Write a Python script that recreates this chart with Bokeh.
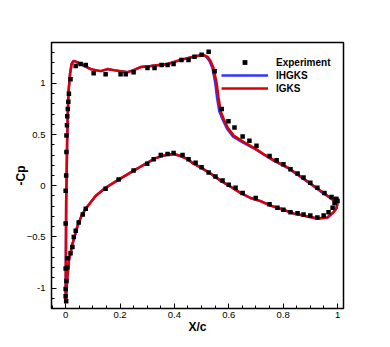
from bokeh.plotting import figure
from bokeh.models import Range1d, Legend, LegendItem, FixedTicker
from bokeh.embed import file_html
from bokeh.resources import INLINE

# Experiment, upper surface
exp_up_x = [0.002, 0.003, 0.003, 0.005, 0.006, 0.008, 0.010, 0.012, 0.018, 0.037, 0.055, 0.074,
            0.103, 0.147, 0.202, 0.221, 0.250, 0.301, 0.327, 0.353, 0.375, 0.397, 0.426, 0.452,
            0.474, 0.500, 0.526, 0.548, 0.574, 0.599, 0.621, 0.651, 0.676, 0.702, 0.750, 0.776,
            0.801, 0.827, 0.853, 0.875, 0.900, 0.926, 0.952, 0.978, 0.993, 1.000]
exp_up_cp = [0.10, 0.33, 0.49, 0.59, 0.68, 0.75, 0.82, 0.90, 1.04, 1.17, 1.19, 1.18,
             1.10, 1.09, 1.09, 1.09, 1.11, 1.15, 1.15, 1.18, 1.18, 1.19, 1.23, 1.23,
             1.26, 1.28, 1.31, 1.12, 0.75, 0.63, 0.57, 0.48, 0.44, 0.39, 0.29, 0.25,
             0.21, 0.16, 0.12, 0.08, 0.03, -0.02, -0.07, -0.11, -0.13, -0.15]

# Experiment, lower surface
exp_lo_x = [0.000, 0.000, 0.000, 0.000, 0.000, 0.002, 0.003, 0.006, 0.007, 0.018, 0.025, 0.030,
            0.037, 0.048, 0.063, 0.074, 0.147, 0.195, 0.250, 0.300, 0.324, 0.350, 0.375, 0.397,
            0.430, 0.452, 0.478, 0.500, 0.526, 0.551, 0.577, 0.600, 0.625, 0.651, 0.699, 0.750,
            0.779, 0.801, 0.827, 0.853, 0.875, 0.900, 0.926, 0.949, 0.967, 0.982, 0.989, 0.996]
exp_lo_cp = [-0.05, -0.37, -0.81, -1.01, -1.08, -1.13, -0.93, -0.80, -0.71, -0.66, -0.60, -0.50,
             -0.44, -0.36, -0.28, -0.225, -0.03, 0.06, 0.15, 0.215, 0.26, 0.30, 0.31, 0.32,
             0.30, 0.26, 0.225, 0.18, 0.13, 0.09, 0.05, 0.01, -0.02, -0.07, -0.12, -0.18,
             -0.215, -0.235, -0.26, -0.27, -0.28, -0.29, -0.31, -0.29, -0.26, -0.215, -0.17, -0.13]

# IGKS (red)
igks_up_x = [0.0, 0.001, 0.002, 0.004, 0.0055, 0.0075, 0.011, 0.0165, 0.022, 0.029, 0.040, 0.055,
             0.092, 0.129, 0.154, 0.176, 0.228, 0.250, 0.276, 0.3125, 0.375, 0.423, 0.470, 0.507,
             0.522, 0.533, 0.544, 0.555, 0.5625, 0.570, 0.581, 0.596, 0.618, 0.654, 0.699, 0.728,
             0.765, 0.816, 0.875, 0.9375, 0.974, 1.0]
igks_up_cp = [-1.14, -0.64, -0.15, 0.15, 0.44, 0.68, 0.93, 1.10, 1.19, 1.22, 1.21, 1.19,
              1.14, 1.12, 1.14, 1.13, 1.11, 1.13, 1.16, 1.17, 1.19, 1.23, 1.26, 1.28,
              1.26, 1.22, 1.15, 1.01, 0.86, 0.73, 0.655, 0.57, 0.49, 0.43, 0.36, 0.31,
              0.25, 0.18, 0.07, -0.05, -0.12, -0.17]
igks_lo_x = [0.0, 0.006, 0.012, 0.025, 0.043, 0.059, 0.074, 0.110, 0.147, 0.195, 0.246, 0.294,
             0.331, 0.368, 0.397, 0.423, 0.449, 0.470, 0.496, 0.533, 0.570, 0.607, 0.643, 0.680,
             0.717, 0.754, 0.790, 0.838, 0.890, 0.926, 0.963, 0.985, 0.996, 1.0]
igks_lo_cp = [-1.14, -0.90, -0.73, -0.57, -0.40, -0.29, -0.225, -0.10, -0.02, 0.06, 0.14, 0.215,
              0.27, 0.30, 0.31, 0.29, 0.26, 0.215, 0.18, 0.12, 0.05, -0.01, -0.07, -0.12,
              -0.15, -0.195, -0.225, -0.27, -0.30, -0.32, -0.31, -0.26, -0.22, -0.17]

# IHGKS (blue), shock slightly upstream
ihgks_up_x = [0.0, 0.001, 0.002, 0.004, 0.0055, 0.0075, 0.011, 0.0165, 0.022, 0.029, 0.040, 0.055,
              0.092, 0.129, 0.154, 0.176, 0.228, 0.250, 0.276, 0.3125, 0.375, 0.423, 0.470, 0.505,
              0.518, 0.529, 0.540, 0.550, 0.557, 0.565, 0.577, 0.593, 0.616, 0.653, 0.699, 0.728,
              0.765, 0.816, 0.875, 0.9375, 0.974, 1.0]
ihgks_up_cp = [-1.14, -0.64, -0.15, 0.15, 0.44, 0.68, 0.93, 1.10, 1.19, 1.22, 1.21, 1.19,
               1.14, 1.12, 1.14, 1.13, 1.11, 1.13, 1.16, 1.17, 1.19, 1.23, 1.26, 1.28,
               1.26, 1.22, 1.15, 1.01, 0.86, 0.73, 0.65, 0.56, 0.48, 0.42, 0.355, 0.305,
               0.245, 0.175, 0.065, -0.055, -0.12, -0.17]
ihgks_lo_x = igks_lo_x
ihgks_lo_cp = igks_lo_cp

x_ticks = [0, 0.2, 0.4, 0.6, 0.8, 1]
y_ticks = [-1, -0.5, 0, 0.5, 1]

p = figure(width=390, height=347, output_backend="svg", toolbar_location=None,
           x_range=Range1d(-0.052, 1.022), y_range=Range1d(-1.2, 1.4),
           min_border_left=51, min_border_top=42, min_border_right=47, min_border_bottom=39)
p.grid.visible = False
p.outline_line_color = "black"
p.outline_line_width = 1.5
p.background_fill_color = "white"
p.border_fill_color = "white"

blue = "#3333ff"
red = "#dd0000"

r_b1 = p.line(ihgks_up_x, ihgks_up_cp, line_color=blue, line_width=2.5)
p.line(ihgks_lo_x, ihgks_lo_cp, line_color=blue, line_width=2.5)
r_r1 = p.line(igks_up_x, igks_up_cp, line_color=red, line_width=2.5)
p.line(igks_lo_x, igks_lo_cp, line_color=red, line_width=2.5)
r_e1 = p.scatter(exp_up_x, exp_up_cp, marker="square", size=4.5, fill_color="black", line_color=None)
p.scatter(exp_lo_x, exp_lo_cp, marker="square", size=4.5, fill_color="black", line_color=None)

for ax in (p.xaxis[0], p.yaxis[0]):
    ax.axis_line_color = None
    ax.major_tick_out = 0
    ax.major_tick_in = 5
    ax.minor_tick_out = 0
    ax.minor_tick_in = 3
    ax.major_tick_line_color = "black"
    ax.minor_tick_line_color = "black"
    ax.major_label_text_font = "Liberation Sans"
    ax.major_label_text_font_size = "9.5px"
    ax.major_label_text_color = "black"
    ax.axis_label_text_font = "Liberation Sans"
    ax.axis_label_text_font_style = "bold"
    ax.axis_label_text_font_size = "12px"
    ax.axis_label_text_color = "black"

p.xaxis.ticker = FixedTicker(ticks=x_ticks, minor_ticks=[round(-0.05 + 0.05 * i, 2) for i in range(22)])
p.yaxis.ticker = FixedTicker(ticks=y_ticks, minor_ticks=[round(-1.2 + 0.1 * i, 1) for i in range(27)])
p.xaxis.major_label_overrides = {0: "0", 1: "1"}
p.yaxis.major_label_overrides = {0: "0", 1: "1", -1: "-1"}
p.xaxis.axis_label = "X/c"
p.yaxis.axis_label = "-Cp"
p.xaxis.major_label_standoff = 3
p.xaxis.axis_label_standoff = -1
p.yaxis.major_label_standoff = 6
p.yaxis.axis_label_standoff = -4

legend = Legend(items=[
    LegendItem(label="Experiment", renderers=[r_e1]),
    LegendItem(label="IHGKS", renderers=[r_b1]),
    LegendItem(label="IGKS", renderers=[r_r1]),
], location=(170, 214))
legend.background_fill_alpha = 0
legend.border_line_color = None
legend.padding = 0
legend.margin = 0
legend.spacing = 1
legend.label_height = 12
legend.glyph_height = 12
legend.glyph_width = 47
legend.label_standoff = 8
legend.label_text_font = "Liberation Sans"
legend.label_text_font_style = "bold"
legend.label_text_font_size = "10px"
legend.label_text_color = "black"
p.add_layout(legend)

open("out.html", "w").write(file_html(p, INLINE))
